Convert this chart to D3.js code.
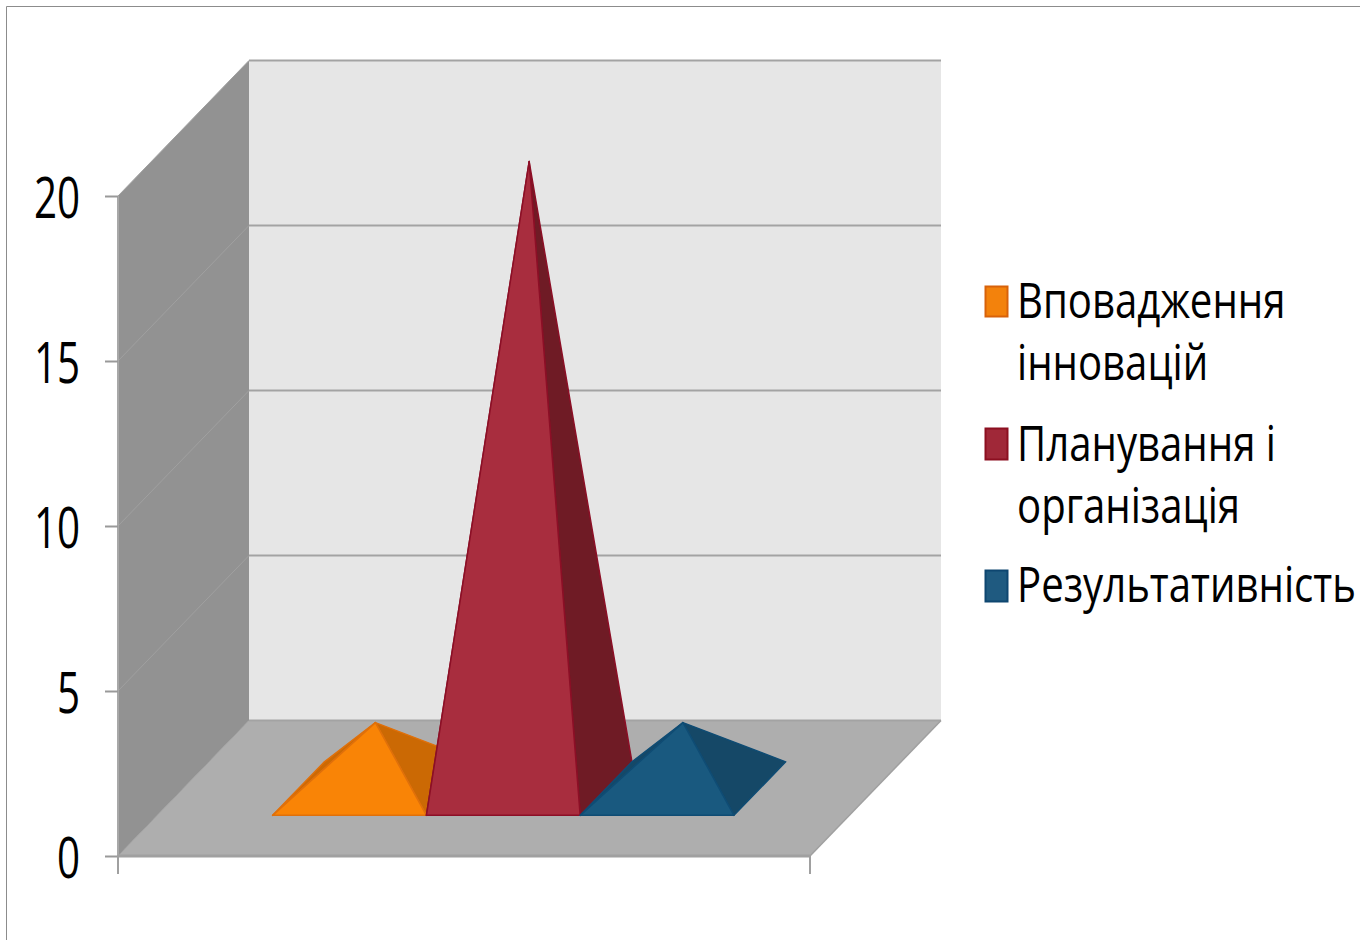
<!DOCTYPE html>
<html><head><meta charset="utf-8">
<script src="https://cdn.jsdelivr.net/npm/d3@7"></script>
<style>html,body{margin:0;padding:0;background:#fff;overflow:hidden}svg{display:block}text{font-family:"Open Sans",sans-serif;fill:#000}</style>
</head><body><svg id="c" width="1360" height="940"></svg>
<script>
const seriesNames = ["Вповадження інновацій", "Планування і організація", "Результативність"];
const seriesValues = [2, 19, 2];
const yTicks = [0, 5, 10, 15, 20];
const legendLines = [["Вповадження", "інновацій"], ["Планування і", "організація"], ["Результативність"]];
const frontColors = ["#f98406", "#a82d3e", "#19597f"];
const sideColors = ["#cb6904", "#6f1b25", "#154867"];
const edgeColors = ["#e0700a", "#8c0f26", "#0f4c74"];
const swatchColors = ["#f3820c", "#a02838", "#1f5a80"];
const swatchEdges = ["#d8620a", "#8c0f20", "#0e4670"];

const svg = d3.select("#c");
const y = d3.scaleLinear().domain([0, 20]).range([856, 196]);
const x = d3.scaleBand().domain(seriesNames).range([118, 810]).paddingInner(0).paddingOuter(0.75);
const depthX = d3.scaleLinear().domain([0, 1]).range([0, 131]);
const depthY = d3.scaleLinear().domain([0, 1]).range([0, 135.5]);
const proj = (px, d, v) => [px + depthX(d), y(v) - depthY(d)];
const L = x.range()[0], R = x.range()[1], V0 = 0, VT = 20;
const poly = pts => "M" + pts.map(p => p.join(",")).join("L") + "Z";

// frame
svg.append("path").attr("d", "M6.5,940V6.5H1360").attr("fill", "none").attr("stroke", "#8c8c8c").attr("stroke-width", 1);

// walls and floor
svg.append("path").attr("d", poly([proj(L, 1, VT), proj(R, 1, VT), proj(R, 1, V0), proj(L, 1, V0)])).attr("fill", "#e6e6e6");
svg.append("path").attr("d", poly([proj(L, 0, VT), proj(L, 1, VT), proj(L, 1, V0), proj(L, 0, V0)])).attr("fill", "#929292");
svg.append("path").attr("d", poly([proj(L, 0, V0), proj(R, 0, V0), proj(R, 1, V0), proj(L, 1, V0)])).attr("fill", "#aeaeae");

// gridlines
const line = (a, b, w, c) => svg.append("line").attr("x1", a[0]).attr("y1", a[1]).attr("x2", b[0]).attr("y2", b[1]).attr("stroke", c).attr("stroke-width", w);
yTicks.forEach(t => {
  line(proj(L, 1, t), proj(R, 1, t), 2, "#a3a3a3");
  if (t > 0) line(proj(L, 0, t), proj(L, 1, t), 1, "#a0a0a0");
});
line(proj(L, 0, V0), proj(L, 1, V0), 1, "#a0a0a0");
line(proj(R, 0, V0), proj(R, 1, V0), 1.5, "#a0a0a0");
line(proj(L, 0, VT), proj(L, 0, V0), 2, "#a8a8a8");
line(proj(L, 0, V0), proj(R, 0, V0), 3, "#a0a0a0");

// axes
const axisG = svg.append("g").attr("transform", `translate(${L},0)`)
  .call(d3.axisLeft(y).tickValues(yTicks).tickSize(13).tickFormat(d3.format("d")));
axisG.select(".domain").remove();
axisG.selectAll("line").attr("stroke", "#999").attr("stroke-width", 2);
axisG.selectAll("text").attr("x", null).attr("dy", null).attr("font-size", 56)
  .attr("text-anchor", "end").style("font-family", '"Open Sans",sans-serif')
  .attr("transform", "translate(-38,21) scale(.72,1)");
[L, R].forEach(px => line([px, y(0)], [px, y(0) + 18], 2, "#a0a0a0"));

// pyramids
const dFront = 0.30, dBack = 0.695;
[0, 1, 2].forEach(i => {
  const name = seriesNames[i], v = seriesValues[i];
  const x0 = x(name), x1 = x0 + x.bandwidth();
  const fl = proj(x0, dFront, 0), fr = proj(x1, dFront, 0), bl = proj(x0, dBack, 0), br = proj(x1, dBack, 0);
  const apex = proj((x0 + x1) / 2, (dFront + dBack) / 2, v);
  const g = svg.append("g");
  const face = (pts, fill, w) => g.append("path").attr("d", poly(pts)).attr("fill", fill).attr("stroke", edgeColors[i]).attr("stroke-width", w).attr("stroke-linejoin", "round");
  face([fl, bl, apex], sideColors[i], 1.5);
  face([fr, br, apex], sideColors[i], 1.5);
  face([fl, fr, apex], frontColors[i], 1.5);
});

// legend
const legendRows = [
  {swatch: [985, 286, 22, 30], base: [318, 380]},
  {swatch: [985, 428, 22, 31], base: [461, 523]},
  {swatch: [985, 570, 22, 31], base: [602]}
];
legendRows.forEach((r, i) => {
  svg.append("rect").attr("x", r.swatch[0] + .5).attr("y", r.swatch[1] + .5).attr("width", r.swatch[2]).attr("height", r.swatch[3])
    .attr("fill", swatchColors[i]).attr("stroke", swatchEdges[i]).attr("stroke-width", 2);
  legendLines[i].forEach((t, j) => {
    svg.append("text").attr("transform", `translate(1017,${r.base[j]}) scale(.803,1)`).attr("font-size", 50).text(t);
  });
});
</script></body></html>
